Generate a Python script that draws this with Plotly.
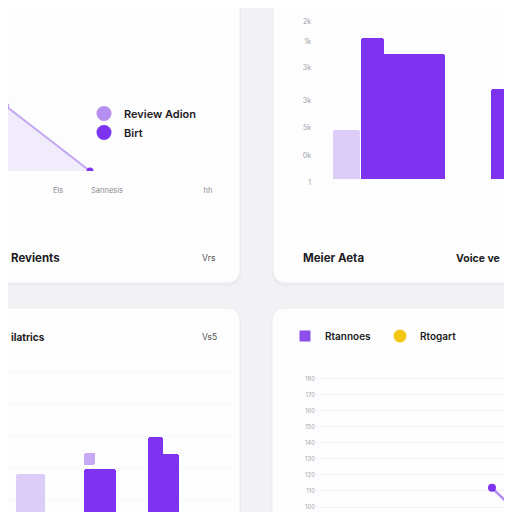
import plotly.graph_objects as go

# ---- data ----
# top-left: area line
area_x = [0, 1, 2]
area_y = [44, 40, 0]
area_ticks = ["Els", "Sannesis", "hh"]
legend1_names = ["Review Adion", "Birt"]

# top-right: bars
bar2_light = [31]
bar2_tall = [88]
bar2_dark = [78, 56]
axis2_labels = ["1", "0k", "5k", "3k", "3k", "1k", "2k"]

# bottom-left: bars
bar3_light = [29]
bar3_dark = [31.5, 39]
bar3_tall = [47.5]
bar3_float_base = [33.5]
bar3_float_height = [6]

# bottom-right: line
line4_x = [5, 6]
line4_y = [112, 89]
axis4_labels = ["100", "110", "120", "130", "140", "150", "160", "170", "180"]
legend4_names = ["Rtannoes", "Rtogart"]

LIGHT = "#dccdf8"
DARK = "#7d33f0"
LINE = "#c3a6f1"
BG = "#f2f2f5"
CARD = "#fdfdfe"
TXT = "#1c1c22"
GRAY = "#8a8a90"
FONT = "Inter, Roboto, sans-serif"

# the page puts the figure 8px in from the top-left corner
OFF = 8
W, H = 496, 504


def px(x):
    return (x - OFF) / W


def py(y):
    return 1 - (y - OFF) / H


def card_path(x0, y0, x1, y1, r=14):
    pts = [
        ("M", x0 + r, y0), ("L", x1 - r, y0), ("Q", x1, y0, x1, y0 + r),
        ("L", x1, y1 - r), ("Q", x1, y1, x1 - r, y1), ("L", x0 + r, y1),
        ("Q", x0, y1, x0, y1 - r), ("L", x0, y0 + r), ("Q", x0, y0, x0 + r, y0),
    ]
    out = []
    for p in pts:
        cmd, vals = p[0], p[1:]
        coords = []
        for i in range(0, len(vals), 2):
            coords.append(f"{px(vals[i]):.4f},{py(vals[i + 1]):.4f}")
        out.append(cmd + " " + " ".join(coords))
    return " ".join(out) + " Z"


nolines = dict(width=0)
fig = go.Figure()

# panel 1 — area
fig.add_trace(go.Scatter(x=area_x, y=[0, 0, 0], mode="lines", line=dict(color="#cfcfd6", width=1.5),
                         xaxis="x", yaxis="y", showlegend=False, hoverinfo="skip"))
fig.add_trace(go.Scatter(x=area_x, y=area_y, mode="lines+markers", fill="tozeroy",
                         fillcolor="#f1ecfb", line=dict(color=LINE, width=2),
                         marker=dict(color=DARK, size=7), xaxis="x", yaxis="y", showlegend=False))
for name, col in zip(legend1_names, ["#b58ef0", DARK]):
    fig.add_trace(go.Scatter(x=[None], y=[None], mode="markers", name=name,
                             marker=dict(color=col, size=15), xaxis="x", yaxis="y", legend="legend"))

# panel 2 — bars
fig.add_trace(go.Bar(x=[0], y=bar2_light, width=0.406,
                     marker=dict(color=LIGHT, cornerradius=3, line=nolines),
                     xaxis="x2", yaxis="y2", showlegend=False))
fig.add_trace(go.Bar(x=[1, 2], y=bar2_dark, width=0.962, offset=[-0.481, 0.173],
                     marker=dict(color=DARK, cornerradius=3, line=nolines),
                     xaxis="x2", yaxis="y2", showlegend=False))
fig.add_trace(go.Bar(x=[1], y=bar2_tall, width=0.35, offset=-0.782,
                     marker=dict(color=DARK, cornerradius=3, line=nolines),
                     xaxis="x2", yaxis="y2", showlegend=False))

# panel 3 — bars
fig.add_trace(go.Bar(x=[0], y=bar3_light, width=0.417,
                     marker=dict(color=LIGHT, cornerradius=3, line=nolines),
                     xaxis="x3", yaxis="y3", showlegend=False))
fig.add_trace(go.Bar(x=[1, 2], y=bar3_dark, width=[0.46, 0.273],
                     marker=dict(color=DARK, cornerradius=3, line=nolines),
                     xaxis="x3", yaxis="y3", showlegend=False))
fig.add_trace(go.Bar(x=[2], y=bar3_tall, width=0.22, offset=-0.309,
                     marker=dict(color=DARK, cornerradius=3, line=nolines),
                     xaxis="x3", yaxis="y3", showlegend=False))
fig.add_trace(go.Bar(x=[1], y=bar3_float_height, base=bar3_float_base, width=0.158, offset=-0.23,
                     marker=dict(color="#c7a9f5", cornerradius=2, line=nolines),
                     xaxis="x3", yaxis="y3", showlegend=False))

# panel 4 — line
fig.add_trace(go.Scatter(x=line4_x, y=line4_y, mode="lines+markers", line=dict(color="#b48cf0", width=2.5),
                         marker=dict(color=DARK, size=8), xaxis="x4", yaxis="y4", showlegend=False))
fig.add_trace(go.Scatter(x=[None], y=[None], mode="markers", name=legend4_names[0],
                         marker=dict(color="#8c4fe8", size=11, symbol="square"),
                         xaxis="x4", yaxis="y4", legend="legend2"))
fig.add_trace(go.Scatter(x=[None], y=[None], mode="markers", name=legend4_names[1],
                         marker=dict(color="#f3c614", size=13), xaxis="x4", yaxis="y4", legend="legend2"))

# cards
shapes = []
for (x0, y0, x1, y1) in [(-30, -30, 240, 283), (273, -30, 560, 283),
                         (-30, 308, 240, 560), (272, 308, 560, 560)]:
    shapes.append(dict(type="path", path=card_path(x0 - 1, y0, x1 + 1, y1 + 3), xref="paper", yref="paper",
                       fillcolor="rgba(60,60,90,0.035)", line=dict(width=0), layer="below"))
    shapes.append(dict(type="path", path=card_path(x0, y0, x1, y1), xref="paper", yref="paper",
                       fillcolor=CARD, line=dict(color="#efeff3", width=1), layer="below"))

hidden = dict(showgrid=False, zeroline=False, showticklabels=False, showline=False, ticks="")

annotations = []
for text, x, y, size, bold, col in [
    ("Revients", 9, 258, 11.5, True, TXT), ("Vrs", 200, 258, 8.5, False, "#555"),
    ("Meier Aeta", 301, 258, 11.5, True, TXT), ("Voice ve", 454, 258, 10.5, True, TXT),
    ("ilatrics", 9, 337, 10, True, TXT), ("Vs5", 200, 337, 8.5, False, "#555"),
]:
    annotations.append(dict(text=f"<b>{text}</b>" if bold else text, x=px(x), y=py(y), xref="paper", yref="paper",
                            xanchor="left", yanchor="middle", showarrow=False, font=dict(size=size, color=col)))

fig.update_layout(
    width=W, height=H, margin=dict(l=0, r=0, t=0, b=0, pad=0, autoexpand=False),
    paper_bgcolor=BG, plot_bgcolor="rgba(0,0,0,0)",
    font=dict(family=FONT, color=TXT), barmode="overlay", bargap=0,
    shapes=shapes, annotations=annotations,
    xaxis=dict(domain=[0, px(240)], range=[1.035, 3.765], anchor="y", showgrid=False, zeroline=False,
               showline=False, tickvals=[1.624, 2.2, 3.388], ticktext=area_ticks, ticks="",
               ticklabelstandoff=13, tickfont=dict(size=7.5, color=GRAY)),
    yaxis=dict(domain=[py(171), py(40)], range=[0, 80], anchor="x", **hidden),
    xaxis2=dict(domain=[px(312), 1], range=[-0.519, 2.368], anchor="y2", **hidden),
    yaxis2=dict(domain=[py(184), py(19)], range=[-3, 100], anchor="x2", showgrid=False, zeroline=False,
                showline=False, tickvals=[-1.8, 14.5, 32, 49.4, 69.4, 85.7, 98.1], ticktext=axis2_labels,
                ticks="", tickfont=dict(size=7, color="#a0a0a6")),
    xaxis3=dict(domain=[0, px(240)], range=[-0.324, 3.014], anchor="y3", **hidden),
    yaxis3=dict(domain=[0, py(360)], range=[10, 86], anchor="x3", showgrid=True, gridcolor="#f8f8fa",
                zeroline=False, showticklabels=False, ticks="", dtick=16),
    xaxis4=dict(domain=[px(320), 1], range=[0.474, 5.316], anchor="y4", **hidden),
    yaxis4=dict(domain=[0, py(370)], range=[96.875, 185.6], anchor="x4", showgrid=True, gridcolor="#f1f1f4",
                zeroline=False, showline=False, tickvals=list(range(100, 190, 10)), ticktext=axis4_labels,
                ticks="", ticklabelstandoff=4, tickfont=dict(size=6, color="#a8a8ae")),
    legend=dict(x=px(84), y=py(99), xanchor="left", yanchor="top", bgcolor="rgba(0,0,0,0)",
                font=dict(size=11, color=TXT, weight=600), tracegroupgap=0, itemsizing="trace"),
    legend2=dict(x=px(285), y=py(336), xanchor="left", yanchor="middle", orientation="h",
                 bgcolor="rgba(0,0,0,0)", font=dict(size=10, color=TXT, weight=600), entrywidth=50,
                 entrywidthmode="pixels"),
)

fig.write_html("out.html")
